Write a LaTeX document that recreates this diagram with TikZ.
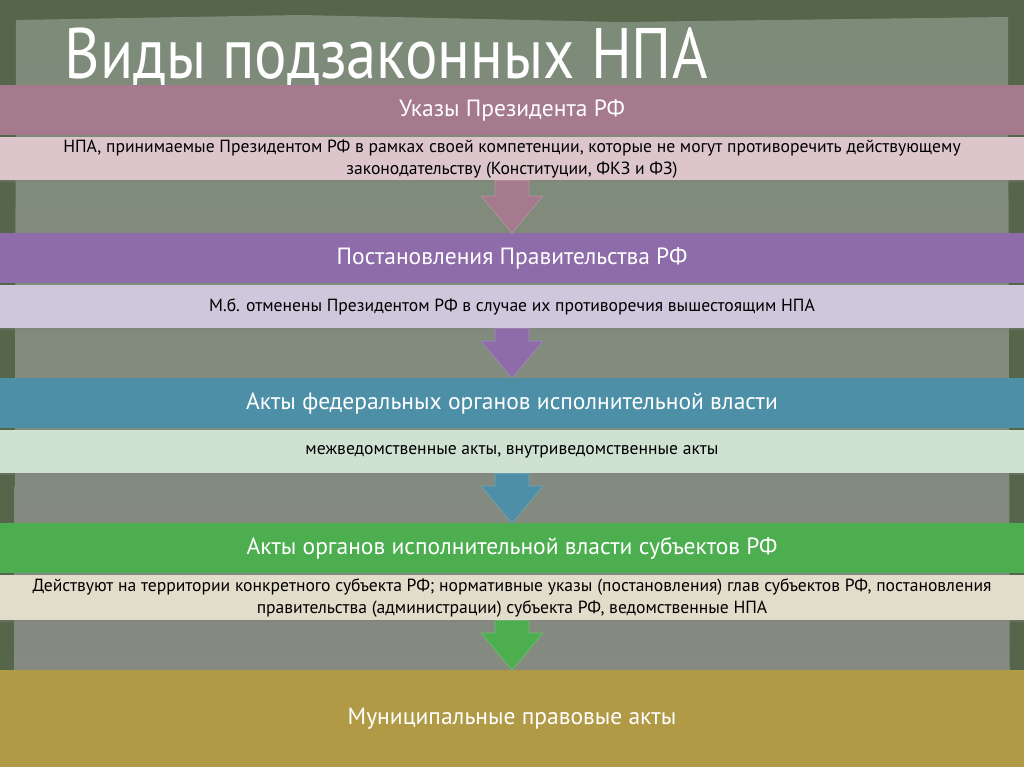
\documentclass[tikz,border=0pt]{standalone}
\usepackage{fontspec}
\setmainfont{PT Sans}
\newfontfamily\titlefont{PT Sans}[FakeStretch=0.85]
\usetikzlibrary{calc,shadows}
\definecolor{bgdark}{HTML}{56664A}
\definecolor{bgtop}{HTML}{7D8B79}
\definecolor{bgbot}{HTML}{878A82}
\definecolor{hpink}{HTML}{A57A8C}
\definecolor{bpink}{HTML}{DCC6CC}
\definecolor{hpurple}{HTML}{8D6CA9}
\definecolor{bpurple}{HTML}{CFC8DD}
\definecolor{hblue}{HTML}{4C8FA6}
\definecolor{bblue}{HTML}{CFE2D2}
\definecolor{hgreen}{HTML}{4DAE50}
\definecolor{bgreen}{HTML}{E2DCCA}
\definecolor{hgold}{HTML}{B09A45}
\tikzset{
  head/.style={fill=#1, minimum width=1024pt, minimum height=50pt, inner sep=0pt,
    anchor=north, text=white, font=\fontsize{23.5}{28}\selectfont},
  body/.style={fill=#1, minimum width=1024pt, minimum height=43pt, inner sep=0pt,
    anchor=north, text=black, align=center,
    drop shadow={opacity=0.35, shadow xshift=0pt, shadow yshift=-2pt},
    font=\fontsize{17.6}{22}\selectfont},
  flow/.style={fill=#1, draw=#1!80!white, line width=0.6pt}
}
\newcommand\flowarrow[3]{%
  \path[flow=#3] ($(#1.south)+(-17,0)$) -- ($(#1.south)+(17,0)$)
    -- ($(#2.north)+(17,-37)$) -- ($(#2.north)+(31,-37)$) -- (#2.north)
    -- ($(#2.north)+(-31,-37)$) -- ($(#2.north)+(-17,-37)$) -- cycle;}
\begin{document}
\begin{tikzpicture}[x=1pt,y=-1pt]
\useasboundingbox (0,0) rectangle (1024,767);
% background
\fill[bgdark] (0,0) rectangle (1024,767);
\shade[top color=bgtop, bottom color=bgbot] (16,20) -- (300,15) -- (620,22) -- (1008,17)
  -- (1010,767) -- (14,767) -- cycle;
% title
\node (title) [anchor=base west, text=white, font=\titlefont\fontsize{71.5}{74}\selectfont]
  at (61,79) {Виды подзаконных НПА};
% boxes
\node (h1) [head=hpink] at (512,85) {Указы Президента РФ};
\node (b1) [body=bpink] at (512,137) {НПА, принимаемые Президентом РФ в рамках своей компетенции, которые не могут противоречить действующему\\законодательству (Конституции, ФКЗ и ФЗ)};
\node (h2) [head=hpurple] at (512,233) {Постановления Правительства РФ};
\node (b2) [body=bpurple] at (512,285) {М.б. отменены Президентом РФ в случае их противоречия вышестоящим НПА};
\node (h3) [head=hblue] at (512,378) {Акты федеральных органов исполнительной власти};
\node (b3) [body=bblue] at (512,430) {межведомственные акты, внутриведомственные акты};
\node (h4) [head=hgreen] at (512,523) {Акты органов исполнительной власти субъектов РФ};
\node (b4) [body=bgreen, minimum height=45pt] at (512,575) {Действуют на территории конкретного субъекта РФ; нормативные указы (постановления) глав субъектов РФ, постановления\\правительства (администрации) субъекта РФ, ведомственные НПА};
\node (h5) [head=hgold, minimum height=97pt] at (512,670) {Муниципальные правовые акты};
% arrows
\flowarrow{b1}{h2}{hpink}
\flowarrow{b2}{h3}{hpurple}
\flowarrow{b3}{h4}{hblue}
\flowarrow{b4}{h5}{hgreen}
\end{tikzpicture}
\end{document}
